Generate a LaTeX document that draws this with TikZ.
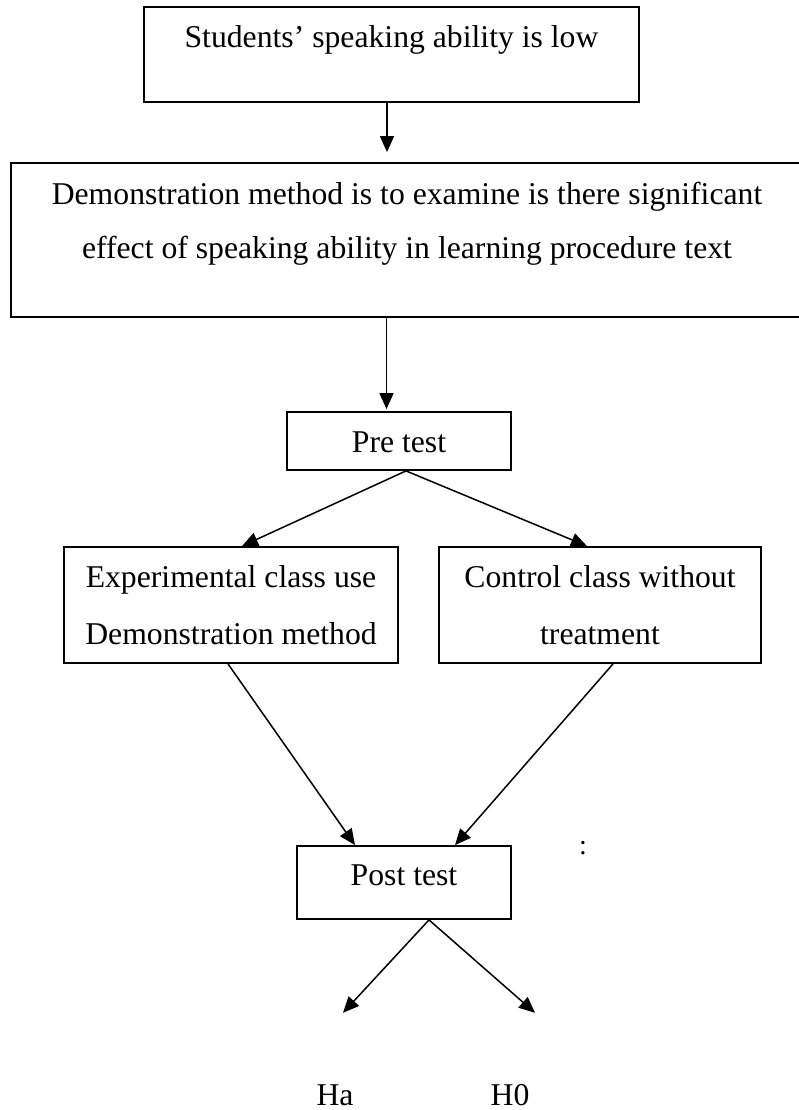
\documentclass[tikz,border=0pt]{standalone}
\usepackage{fontspec}
\setmainfont{Liberation Serif}
\usetikzlibrary{arrows.meta}

\begin{document}
\begin{tikzpicture}[
  x=1pt,y=1pt,
  font=\fontsize{31.7}{57}\selectfont,
  box/.style={draw=black,line width=1.8pt,inner sep=0pt,align=center},
  arrow/.style={-{Triangle[length=16pt,width=14pt]},draw=black,line width=1.5pt},
  result/.style={inner sep=0pt,text height=22pt,text depth=0pt,anchor=base},
]
\useasboundingbox (0,0) rectangle (799,-1110);

\node[box,minimum width=495pt,minimum height=95pt,text height=22pt,text depth=35pt] (low) at (391.5,-54.5) {Students' speaking ability is low};
\node[box,minimum width=792pt,minimum height=154pt,font=\fontsize{31.7}{54}\selectfont] (demo) at (407,-240) {Demonstration method is to examine is there significant\\effect of speaking ability in learning procedure text\\[-14pt]\mbox{}};
\node[box,minimum width=224pt,minimum height=58pt,text height=22pt,text depth=0pt] (pre) at (399,-441) {Pre test};

\node[box,minimum width=334pt,minimum height=116pt] (exp) at (231,-605) {Experimental class use\\Demonstration method};
\node[box,minimum width=322pt,minimum height=116pt] (ctrl) at (600,-605) {Control class without\\treatment};

\node[box,minimum width=214pt,minimum height=73pt,text height=22pt,text depth=17pt] (post) at (404,-882.5) {Post test};
\node[font=\fontsize{28}{28}\selectfont,inner sep=0pt] (dots) at (583,-848) {:};

\node[result] (ha) at (335,-1105) {Ha};
\node[result] (hnull) at (510,-1105) {H0};

\draw[arrow] ([xshift=-4.5pt]low.south) -- ([xshift=-20pt,yshift=10pt]demo.north);
\draw[arrow] ([xshift=-20.5pt]demo.south) -- ([xshift=-12.5pt,yshift=2pt]pre.north);
\draw[arrow] ([xshift=7pt]pre.south) -- ([xshift=11pt]exp.north);
\draw[arrow] ([xshift=7pt]pre.south) -- ([xshift=-13pt]ctrl.north);
\draw[arrow] ([xshift=-3pt]exp.south) -- ([xshift=-49pt]post.north);
\draw[arrow] ([xshift=13pt]ctrl.south) -- ([xshift=51pt]post.north);
\draw[arrow] ([xshift=25pt]post.south) -- ([xshift=8pt,yshift=70pt]ha.north);
\draw[arrow] ([xshift=25pt]post.south) -- ([xshift=25pt,yshift=70pt]hnull.north);
\end{tikzpicture}
\end{document}
